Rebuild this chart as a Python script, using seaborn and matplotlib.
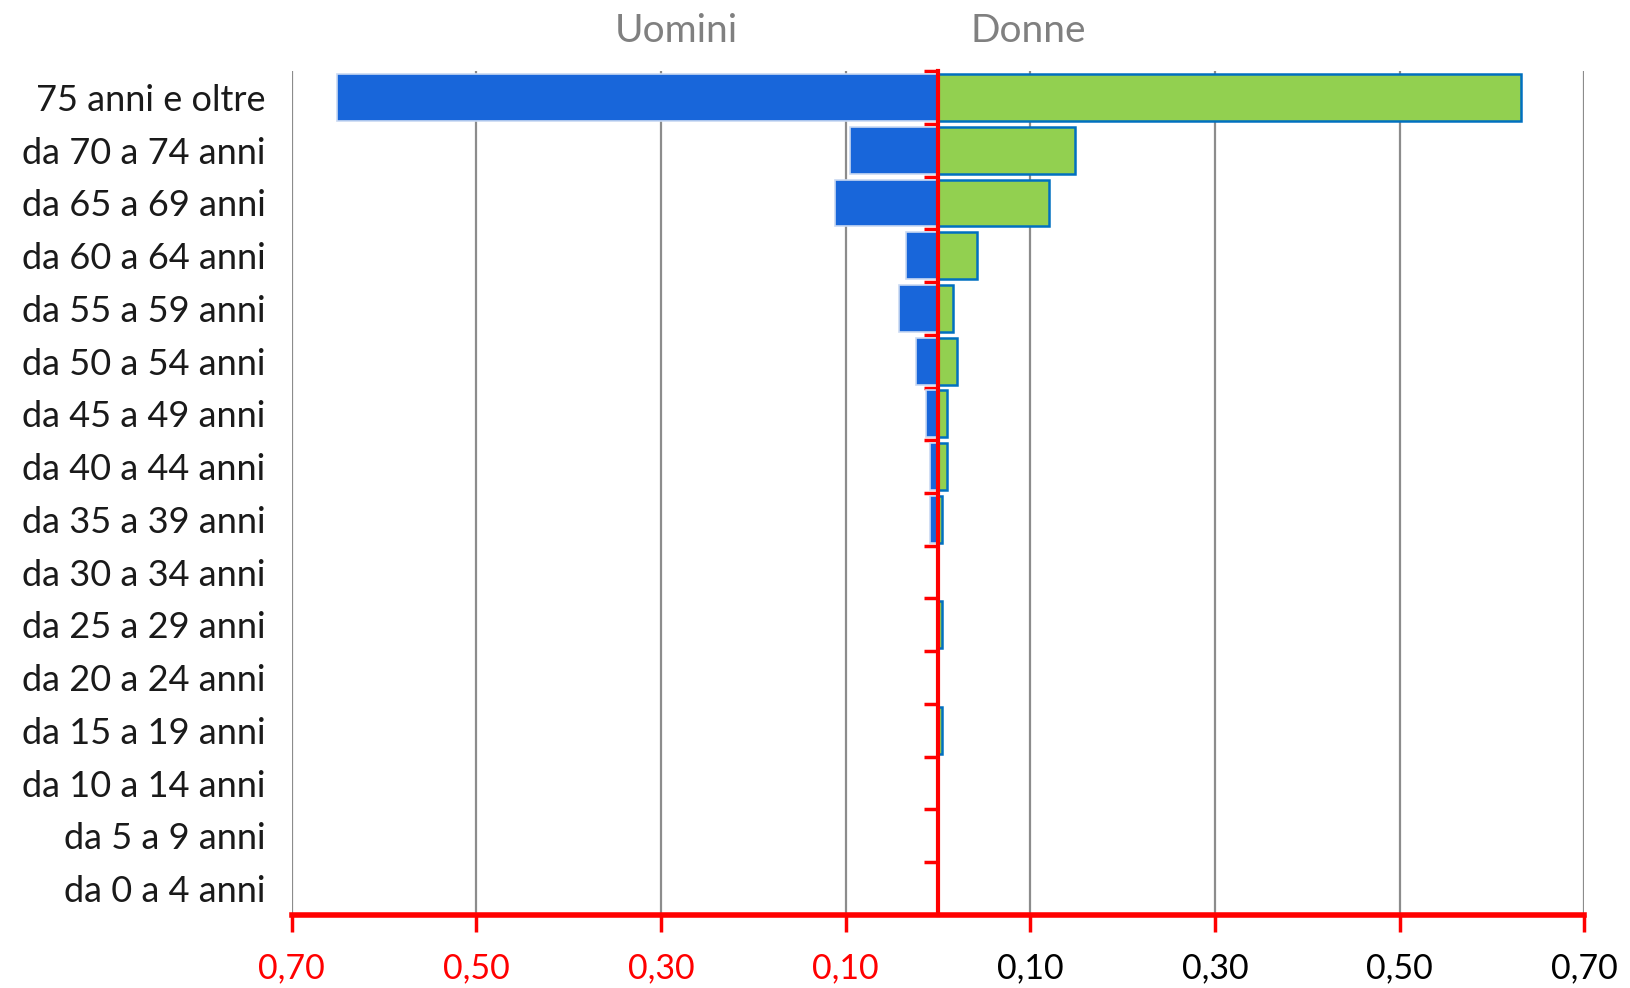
import numpy as np
import pandas as pd
import matplotlib
matplotlib.use("Agg")
import matplotlib.pyplot as plt
from matplotlib.ticker import FixedLocator
import seaborn as sns

# Data
fasce = ["75 anni e oltre", "da 70 a 74 anni", "da 65 a 69 anni", "da 60 a 64 anni",
         "da 55 a 59 anni", "da 50 a 54 anni", "da 45 a 49 anni", "da 40 a 44 anni",
         "da 35 a 39 anni", "da 30 a 34 anni", "da 25 a 29 anni", "da 20 a 24 anni",
         "da 15 a 19 anni", "da 10 a 14 anni", "da 5 a 9 anni", "da 0 a 4 anni"]
uomini = [0.651, 0.095, 0.112, 0.035, 0.042, 0.024, 0.013, 0.009,
          0.009, 0.0, 0.0, 0.0, 0.0, 0.0, 0.0, 0.0]
donne = [0.631, 0.148, 0.120, 0.042, 0.016, 0.020, 0.010, 0.010,
         0.004, 0.0, 0.004, 0.0, 0.004, 0.0, 0.0, 0.0]
xtick_vals = [-0.7, -0.5, -0.3, -0.1, 0.1, 0.3, 0.5, 0.7]

df = pd.DataFrame({"fascia": fasce,
                   "uomini": [-v for v in uomini],
                   "donne": donne})

sns.set_theme(style="white")
plt.rcParams["font.family"] = ["Lato", "DejaVu Sans"]

fig = plt.figure(figsize=(16.3, 9.88), dpi=100)
ax = fig.add_axes([0.179, 0.074, 0.793, 0.854])

# gridlines behind bars
for v in xtick_vals:
    ax.axvline(v, color="#8c8c8c", lw=1.6, zorder=0)

sns.barplot(data=df, x="uomini", y="fascia", orient="h", color="#1866DA",
            saturation=1, width=0.89, edgecolor="#c9d9f2", linewidth=1.2,
            ax=ax, zorder=2)
sns.barplot(data=df, x="donne", y="fascia", orient="h", color="#92D050",
            saturation=1, width=0.89, edgecolor="#0070C0", linewidth=1.8,
            ax=ax, zorder=2)

ax.set_xlim(-0.7, 0.7)
ax.set_ylim(15.5, -0.5)
ax.set_xlabel("")
ax.set_ylabel("")

# zero line as the right spine, with ticks at category boundaries
for s in ["top", "left"]:
    ax.spines[s].set_visible(False)
ax.spines["right"].set_position(("data", 0))
ax.spines["right"].set_color("red")
ax.spines["right"].set_linewidth(3)
ax.spines["right"].set_zorder(5)
ax.spines["bottom"].set_color("red")
ax.spines["bottom"].set_linewidth(4)

ax.yaxis.set_minor_locator(FixedLocator(np.arange(-0.5, 15.5, 1.0)))
ax.tick_params(axis="y", which="major", left=False, right=False,
               labelleft=True, labelright=False, labelsize=26, pad=13,
               labelcolor="#1a1a1a")
ax.tick_params(axis="y", which="minor", left=False, right=True,
               direction="in", length=10, width=2.5, color="red")

ax.set_xticks(xtick_vals)
ax.set_xticklabels([f"{abs(v):.2f}".replace(".", ",") for v in xtick_vals])
ax.tick_params(axis="x", bottom=True, direction="out", length=12, width=2.5,
               color="red", labelsize=24.5, pad=15)
for lab, v in zip(ax.get_xticklabels(), xtick_vals):
    lab.set_color("red" if v < 0 else "black")

fig.text(0.415, 0.969, "Uomini", ha="center", va="center", fontsize=28,
         color="#808080")
fig.text(0.631, 0.969, "Donne", ha="center", va="center", fontsize=28,
         color="#808080")

fig.savefig("out.png", dpi=100)
